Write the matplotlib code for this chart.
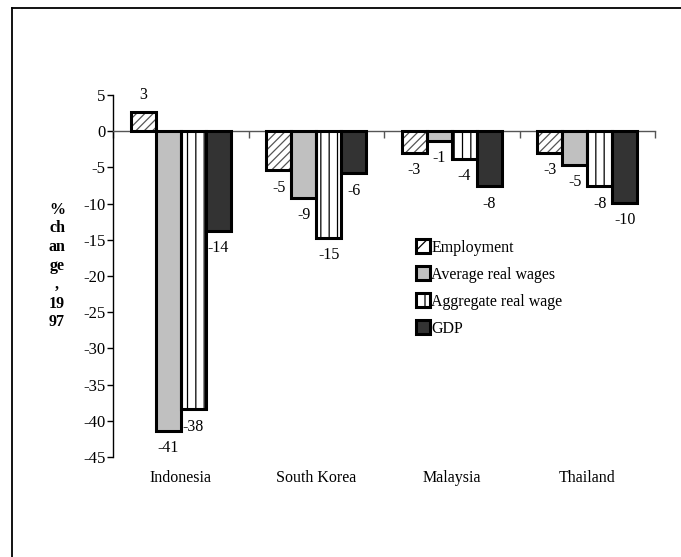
import numpy as np
import matplotlib
matplotlib.use("Agg")
import matplotlib.pyplot as plt
from matplotlib.patches import Patch
from matplotlib.lines import Line2D
from matplotlib.transforms import blended_transform_factory

plt.rcParams['font.family'] = ['Liberation Serif', 'DejaVu Serif']
plt.rcParams['axes.unicode_minus'] = False
plt.rcParams['hatch.linewidth'] = 0.9

countries = ["Indonesia", "South Korea", "Malaysia", "Thailand"]
series_names = ["Employment", "Average real wages", "Aggregate real wage", "GDP"]
employment = [2.6, -5.4, -3.0, -3.0]
avg_real_wages = [-41.4, -9.2, -1.3, -4.6]
aggregate_real_wage = [-38.4, -14.7, -3.8, -7.6]
gdp = [-13.8, -5.8, -7.6, -9.9]
y_ticks = list(range(-45, 10, 5))

series = [employment, avg_real_wages, aggregate_real_wage, gdp]
faces = ["white", "#c0c0c0", "white", "#333333"]
hatches = ["////", None, "||", None]
hatch_colors = ["#555555", None, "black", None]

W, H, DPI = 681, 557, 100
fig = plt.figure(figsize=(W / DPI, H / DPI), dpi=DPI)
ax = fig.add_axes([113 / W, 1 - 457 / H, (655 - 113) / W, (457 - 95) / H])

x = np.arange(len(countries))
bw = 0.185
fs = 11.5

for i, vals in enumerate(series):
    pos = x + (i - 1.5) * bw
    if hatches[i]:
        ax.bar(pos, vals, bw, color=faces[i], edgecolor=hatch_colors[i],
               hatch=hatches[i], linewidth=0, zorder=2)
        ax.bar(pos, vals, bw, fill=False, edgecolor="black", linewidth=2.2, zorder=3)
    else:
        ax.bar(pos, vals, bw, color=faces[i], edgecolor="black", linewidth=2.2, zorder=3)
    for px, v in zip(pos, vals):
        off = 12.5 if v > 0 else -12.5
        ax.annotate(f"{int(np.round(v))}", (px, v), xytext=(0, off),
                    textcoords="offset points", ha="center", va="center",
                    fontsize=fs)

ax.set_xlim(-0.5, 3.5)
ax.set_ylim(-45, 5)
ax.set_yticks(y_ticks)
ax.set_yticklabels([str(t) for t in y_ticks], fontsize=12)
ax.tick_params(axis="y", direction="out", length=4, width=1, pad=1.5)

ax.spines["top"].set_visible(False)
ax.spines["right"].set_visible(False)
ax.spines["left"].set_linewidth(1.0)
ax.spines["bottom"].set_position(("data", 0))
ax.spines["bottom"].set_color("#555555")
ax.spines["bottom"].set_linewidth(1.0)
ax.set_xticks(np.arange(-0.5, 4.0, 1.0))
ax.set_xticklabels([])
ax.tick_params(axis="x", direction="out", length=5, width=1, color="#555555")

trans = blended_transform_factory(ax.transData, fig.transFigure)
for xi, name in zip(x, countries):
    ax.text(xi, 1 - 478 / H, name, transform=trans, ha="center", va="center",
            fontsize=fs)

fig.text(57 / W, 1 - 266 / H, "%\nch\nan\nge\n,\n19\n97", ha="center", va="center",
         fontsize=fs, fontweight="bold", linespacing=1.23)

handles = [
    Patch(facecolor="white", edgecolor="black", hatch="/", linewidth=2.2),
    Patch(facecolor="#c0c0c0", edgecolor="black", linewidth=2.2),
    Patch(facecolor="white", edgecolor="black", hatch="|", linewidth=2.2),
    Patch(facecolor="#333333", edgecolor="black", linewidth=2.2),
]
ax.legend(handles, series_names, loc="upper left",
          bbox_to_anchor=(416 / W, 1 - 239.5 / H), bbox_transform=fig.transFigure,
          frameon=False, fontsize=fs, handlelength=0.9, handleheight=0.9,
          handletextpad=0.05, labelspacing=0.68, borderpad=0, borderaxespad=0)

# outer frame lines (top and left)
fig.add_artist(Line2D([12 / W, 1.0], [1 - 8 / H, 1 - 8 / H], transform=fig.transFigure,
                      color="black", linewidth=1.3))
fig.add_artist(Line2D([12 / W, 12 / W], [1 - 8 / H, 0.0], transform=fig.transFigure,
                      color="black", linewidth=1.3))

fig.savefig("out.png", dpi=DPI)
